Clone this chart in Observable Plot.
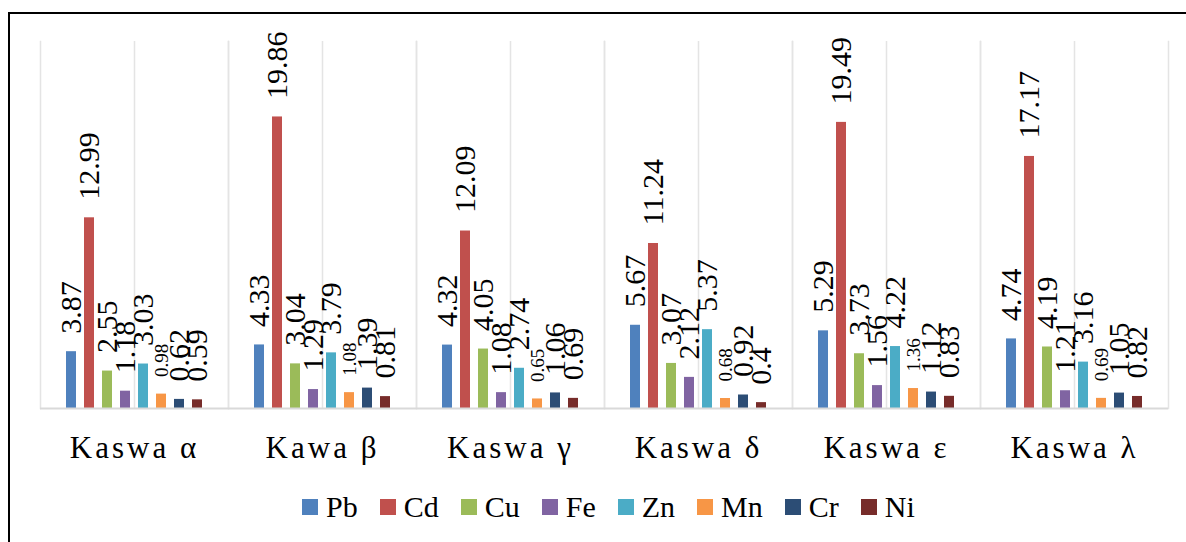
<!DOCTYPE html>
<html>
<head>
<meta charset="utf-8">
<script src="https://cdn.jsdelivr.net/npm/d3@7"></script>
<script src="https://cdn.jsdelivr.net/npm/@observablehq/plot@0.6"></script>
<style>
  html, body { margin: 0; padding: 0; background: #fff; }
  #wrap { position: relative; width: 1186px; height: 542px; overflow: hidden; font-family: 'Liberation Serif', 'Times New Roman', serif; }
  #border { position: absolute; left: 8px; top: 12px; width: 1300px; height: 700px; border: 2px solid #000; box-sizing: border-box; }
  #chart { position: absolute; left: 0; top: 0; width: 1186px; }
  #chart svg { max-width: none; }
  #chart [aria-label="fx-axis tick label"] text { letter-spacing: 3px; }
  #legend { position: absolute; left: 302px; top: 492px; display: flex; align-items: center; font-size: 30px; line-height: 30px; color: #000; }
  #legend .item { display: flex; align-items: center; margin-right: 22px; }
  #legend .sw { width: 16px; height: 16px; margin-right: 8px; }
</style>
</head>
<body>
<div id="wrap">
  <div id="border"></div>
  <div id="chart"></div>
  <div id="legend"></div>
</div>
<script>
const sites = ["Kaswa α", "Kawa β", "Kaswa γ", "Kaswa δ", "Kaswa ε", "Kaswa λ"];
const metals = ["Pb", "Cd", "Cu", "Fe", "Zn", "Mn", "Cr", "Ni"];
const colors = ["#4F81BD", "#C0504D", "#9BBB59", "#8064A2", "#4BACC6", "#F79646", "#2C4D75", "#772C2A"];
const Pb = [3.87, 4.33, 4.32, 5.67, 5.29, 4.74];
const Cd = [12.99, 19.86, 12.09, 11.24, 19.49, 17.17];
const Cu = [2.55, 3.04, 4.05, 3.07, 3.73, 4.19];
const Fe = [1.18, 1.29, 1.08, 2.12, 1.56, 1.21];
const Zn = [3.03, 3.79, 2.74, 5.37, 4.22, 3.16];
const Mn = [0.98, 1.08, 0.65, 0.68, 1.36, 0.69];
const Cr = [0.62, 1.39, 1.06, 0.92, 1.12, 1.05];
const Ni = [0.59, 0.81, 0.69, 0.4, 0.83, 0.82];

const series = {Pb, Cd, Cu, Fe, Zn, Mn, Cr, Ni};
const data = [];
sites.forEach((s, i) => metals.forEach(m => data.push({site: s, metal: m, value: series[m][i]})));

const fam = "Liberation Serif";

const chart = Plot.plot({
  width: 1186,
  height: 470,
  marginLeft: 38,
  marginRight: 16,
  marginTop: 41,
  marginBottom: 62,
  style: {fontFamily: fam, background: "transparent", overflow: "visible"},
  fx: {domain: sites, padding: 0, label: null},
  x: {domain: metals, paddingInner: 0.47, paddingOuter: 1.226, axis: null},
  y: {domain: [0, 25], axis: null},
  color: {domain: metals, range: colors},
  marks: [
    Plot.gridFx({stroke: "#e4e4e4", strokeOpacity: 1, strokeWidth: 1.5}),
    Plot.frame({anchor: "left", stroke: "#e4e4e4", strokeWidth: 1.5}),
    Plot.frame({anchor: "right", stroke: "#e4e4e4", strokeWidth: 1.5}),
    Plot.barY(data, {fx: "site", x: "metal", y: "value", fill: "metal"}),
    Plot.ruleY([0], {stroke: "#d9d9d9", strokeWidth: 2}),
    Plot.text(data.filter(d => d.metal !== "Mn"), {
      fx: "site", x: "metal", y: "value", text: d => String(d.value),
      rotate: -90, textAnchor: "start", lineAnchor: "middle", dy: -18,
      fontSize: 30, fill: "#000", fontFamily: fam
    }),
    Plot.text(data.filter(d => d.metal === "Mn"), {
      fx: "site", x: "metal", y: "value", text: d => String(d.value),
      rotate: -90, textAnchor: "start", lineAnchor: "middle", dy: -17,
      fontSize: 19, fill: "#000", fontFamily: fam
    }),
    Plot.axisFx({anchor: "bottom", tickSize: 0, tickPadding: 27, fontSize: 31, label: null, fill: "#000", fontFamily: fam})
  ]
});
document.getElementById("chart").appendChild(chart);

const legend = document.getElementById("legend");
metals.forEach((m, i) => {
  const item = document.createElement("div");
  item.className = "item";
  const sw = document.createElement("span");
  sw.className = "sw";
  sw.style.background = colors[i];
  const t = document.createElement("span");
  t.textContent = m;
  item.appendChild(sw);
  item.appendChild(t);
  legend.appendChild(item);
});
</script>
</body>
</html>
